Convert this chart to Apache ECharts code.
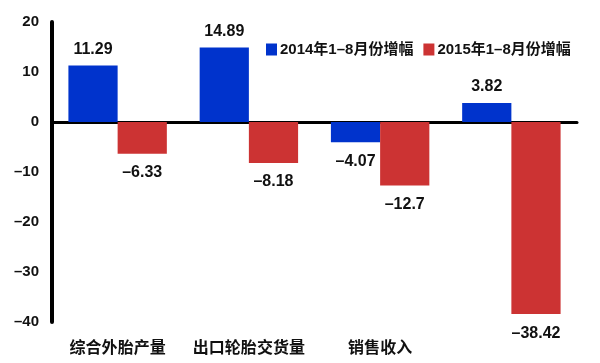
<!DOCTYPE html>
<html>
<head>
<meta charset="utf-8">
<script src="https://cdn.jsdelivr.net/npm/echarts@6/dist/echarts.min.js"></script>
<style>
html,body{margin:0;padding:0;background:#fff;}
#c{width:600px;height:363px;}
</style>
</head>
<body>
<div id="c"></div>
<script>
const categories = ['综合外胎产量', '出口轮胎交货量', '销售收入', ''];
const seriesNames = ['2014年1–8月份增幅', '2015年1–8月份增幅'];
const values2014 = [11.29, 14.89, -4.07, 3.82];
const values2015 = [-6.33, -8.18, -12.7, -38.42];
const yTicks = { min: -40, max: 20, interval: 10 };

const FONT = '"Liberation Sans", "Noto Sans CJK SC", sans-serif';
const fmtNum = v => String(v).replace('-', '–');

function labelOpt() {
  return {
    show: true,
    fontFamily: FONT,
    fontWeight: 'bold',
    fontSize: 16,
    color: '#111',
    formatter: p => fmtNum(p.value)
  };
}
function mkData(arr) {
  return arr.map(v => ({
    value: v,
    label: Object.assign(labelOpt(), { position: v >= 0 ? 'top' : 'bottom', distance: v >= 0 ? 8 : 11 })
  }));
}

const chart = echarts.init(document.getElementById('c'));
chart.setOption({
  backgroundColor: '#fff',
  animation: false,
  grid: { left: 52, right: 23, top: 22, bottom: 41 },
  legend: {
    left: 261, top: 37,
    itemWidth: 11, itemHeight: 12, itemGap: 10,
    icon: 'rect',
    textStyle: { fontFamily: FONT, fontWeight: 'bold', fontSize: 15, color: '#111', padding: [0, 0, 0, -2] },
    data: seriesNames
  },
  xAxis: [
    {
      type: 'category',
      data: categories,
      axisLine: { show: true, onZero: true, lineStyle: { color: '#000', width: 3 } },
      axisTick: { show: false },
      axisLabel: {
        fontFamily: FONT, fontWeight: 'bold', fontSize: 16, color: '#111',
        margin: 19, interval: 0
      }
    },
    { type: 'value', min: 0, max: 1, show: false }
  ],
  yAxis: {
    type: 'value',
    z: 10,
    min: yTicks.min, max: yTicks.max, interval: yTicks.interval,
    axisLine: { show: true, onZero: false, lineStyle: { color: '#000', width: 4 } },
    axisTick: { show: false },
    splitLine: { show: false },
    axisLabel: {
      fontFamily: FONT, fontWeight: 'bold', fontSize: 15, color: '#111',
      margin: 13, formatter: v => fmtNum(v)
    }
  },
  series: [
    {
      name: seriesNames[0], type: 'bar',
      data: mkData(values2014),
      barGap: '0%', barCategoryGap: '25%',
      itemStyle: { color: '#0033cc' }
    },
    {
      name: seriesNames[1], type: 'bar',
      data: mkData(values2015),
      itemStyle: { color: '#cc3333' }
    },
    {
      name: 'yAxisLine', type: 'line', xAxisIndex: 1, z: 10,
      data: [[0, yTicks.min], [0, yTicks.max]],
      symbol: 'none', clip: false, silent: true,
      lineStyle: { color: '#000', width: 4 },
      label: { show: false }, tooltip: { show: false }
    }
  ]
});

// Fallback: draw the vertical axis line on top, positioned through the chart's own scales
const xPix = chart.convertToPixel({ xAxisIndex: 1 }, 0);
const yTop = chart.convertToPixel({ yAxisIndex: 0 }, yTicks.max);
const yBot = chart.convertToPixel({ yAxisIndex: 0 }, yTicks.min);
chart.setOption({
  graphic: [{
    type: 'line', z: 100, silent: true,
    shape: { x1: xPix, y1: yTop, x2: xPix, y2: yBot },
    style: { stroke: '#000', lineWidth: 4 }
  }]
});
</script>
</body>
</html>
